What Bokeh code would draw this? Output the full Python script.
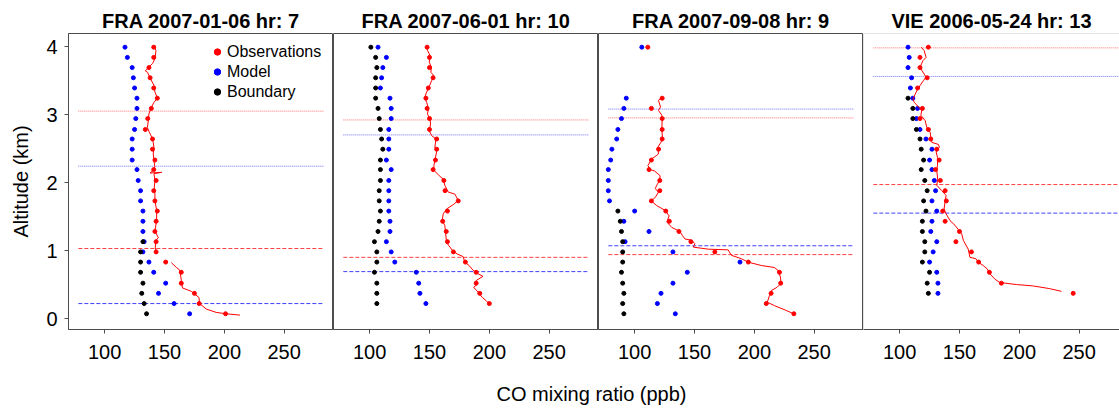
from bokeh.plotting import figure
from bokeh.layouts import row, column
from bokeh.models import Range1d, Legend, LegendItem, Label, BoxAnnotation
from bokeh.embed import file_html
from bokeh.resources import INLINE

# ---------------- data ----------------
XLIM = (78, 283)
YLIM = (0.0, 4.03)
XTICKS = [100, 150, 200, 250]
YTICKS = [0, 1, 2, 3, 4]
TITLES = ["FRA 2007-01-06 hr: 7", "FRA 2007-06-01 hr: 10",
          "FRA 2007-09-08 hr: 9", "VIE 2006-05-24 hr: 13"]
X_LABEL = "CO mixing ratio (ppb)"
Y_LABEL = "Altitude (km)"
LEGEND_LABELS = ["Observations", "Model", "Boundary"]

LEVELS = [3.99, 3.84, 3.69, 3.54, 3.39, 3.24, 3.09, 2.94, 2.78, 2.64, 2.49, 2.33, 2.19,
          2.03, 1.88, 1.73, 1.58, 1.43, 1.28, 1.13, 0.98, 0.83, 0.68, 0.52, 0.37, 0.22, 0.07]

# Panel 1  FRA 2007-01-06
p1_model_x = [117, 119, 123, 124, 125, 127, 127, 126, 125, 123, 123, 123, 127, 128, 130, 130,
              132, 132, 132, 133, 132, 137, 141, 151, 145, 158, 171]
p1_model_alt = LEVELS
p1_bound_x = [132, 130, 130, 130, 132, 131, 133, 135]
p1_bound_alt = LEVELS[19:]
p1_obs_x = [141, 141, 137, 138, 141, 144, 139, 136, 134, 140, 140, 142, 141, 143, 141, 142,
            144, 143, 142, 143, 143, 151, 164, 164, 175, 179, 201]
p1_obs_alt = LEVELS
p1_line_x = [141.2, 142.9, 142.0, 140.1, 137.0, 134.0, 135.9, 138.4, 141.2, 142.0, 144.2, 141.2,
             138.4, 137.0, 136.5, 135.7, 137.3, 140.1, 141.2, 140.6, 141.2, 142.0, 140.1, 137.9,
             147.6, 141.2, 142.0, 141.5, 142.0, 142.0, 143.4, 143.4, 142.0, 144.8, 142.9, 142.3,
             143.4, float("nan"), 155.8, 160.0, 162.8, 164.1, 165.0, 172.4, 178.8, 179.3, 184.9,
             193.2, 201.5, 213.1]
p1_line_alt = [4.00, 3.94, 3.82, 3.75, 3.70, 3.64, 3.62, 3.52, 3.43, 3.33, 3.24, 3.18,
               3.08, 3.01, 2.91, 2.81, 2.74, 2.64, 2.52, 2.42, 2.32, 2.23, 2.17, 2.14,
               2.15, 2.13, 2.03, 1.93, 1.83, 1.74, 1.59, 1.44, 1.29, 1.19, 1.15, 1.05,
               0.95, float("nan"), 0.82, 0.75, 0.71, 0.56, 0.45, 0.40, 0.31, 0.22, 0.14,
               0.09, 0.07, 0.05]
p1_obs_top, p1_model_top, p1_obs_pbl, p1_model_pbl = 3.05, 2.24, 1.03, 0.22

# Panel 2  FRA 2007-06-01
p2_bound_x = [101, 105, 106, 105, 105, 105, 107, 108, 109, 110, 111, 109, 109, 109, 108, 108,
              109, 108, 107, 104, 106, 106, 104, 106, 106, 106]
p2_bound_alt = LEVELS[:26]
p2_model_x = [107, 114, 111, 110, 109, 117, 118, 118, 116, 116, 116, 114, 118, 116, 116, 116,
              116, 117, 117, 114, 118, 121, 139, 141, 142, 147]
p2_model_alt = LEVELS[:26]
p2_obs_x = [148, 150, 150, 153, 149, 147, 148, 150, 150, 156, 156, 155, 153, 162, 163, 174,
            165, 161, 164, 165, 170, 180, 189, 189, 192, 200]
p2_obs_alt = LEVELS[:26]
p2_line_x = [147.6, 148.4, 150.4, 149.8, 151.5, 151.2, 153.7, 151.8, 149.3, 147.6, 146.0, 147.6,
             149.3, 148.2, 150.4, 150.9, 149.8, 151.8, 155.4, 154.5, 155.9, 154.8, 153.7, 153.7,
             158.1, 161.5, 162.8, 165.6, 171.2, 173.9, 170.3, 164.2, 161.5, 160.6, 162.8, 163.4,
             164.2, 169.2, 173.1, 178.1, 179.5, 183.1, 186.4, 190.5, 194.7, 189.1, 189.1, 186.9,
             190.5, 194.1, 197.5, 199.7]
p2_line_alt = [4.00, 3.94, 3.87, 3.77, 3.70, 3.62, 3.57, 3.50, 3.39, 3.33, 3.25, 3.18,
               3.08, 3.01, 2.94, 2.86, 2.76, 2.69, 2.64, 2.52, 2.45, 2.35, 2.25, 2.18,
               2.10, 2.05, 1.96, 1.86, 1.83, 1.74, 1.68, 1.61, 1.54, 1.44, 1.37, 1.27,
               1.12, 1.00, 0.95, 0.91, 0.83, 0.78, 0.71, 0.66, 0.62, 0.56, 0.49, 0.46,
               0.39, 0.31, 0.26, 0.22]
p2_obs_top, p2_model_top, p2_obs_pbl, p2_model_pbl = 2.92, 2.70, 0.90, 0.69

# Panel 3  FRA 2007-09-08
p3_model_x = [106, 93, 91, 89, 86, 85, 81, 80, 78, 78, 78, 79, 100, 91, 112, 92, 132, 188,
              144, 132, 122, 119, 134]
p3_model_alt = [3.99] + LEVELS[5:]
p3_bound_x = [86, 88, 89, 90, 90, 90, 89, 90, 91, 90, 91]
p3_bound_alt = LEVELS[16:]
p3_obs_x = [111, 123, 114, 123, 123, 123, 120, 114, 112, 121, 121, 114, 126, 129, 137, 147,
            167, 195, 221, 222, 214, 210, 233]
p3_obs_alt = [3.99] + LEVELS[5:]
p3_line_x = [123.0, 119.9, 121.6, 119.9, 122.7, 123.0, 122.7, 123.3, 121.9, 119.4, 119.9, 118.5,
             114.4, 111.1, 113.0, 116.6, 121.3, 120.8, 118.5, 117.2, 119.9, 117.2, 113.8, 118.5,
             125.5, 128.8, 126.9, 131.0, 137.9, 139.9, 142.1, 147.6, 150.4, 149.0, 161.5, 178.1,
             180.8, 189.1, 194.7, 205.8, 216.8, 219.6, 221.8, 222.4, 219.0, 214.1, 212.7, 210.8,
             216.8, 226.5, 232.9]
p3_line_alt = [3.25, 3.21, 3.11, 3.06, 2.99, 2.91, 2.79, 2.64, 2.59, 2.52, 2.42, 2.40,
               2.35, 2.25, 2.19, 2.17, 2.10, 2.03, 1.96, 1.91, 1.86, 1.78, 1.73, 1.66,
               1.59, 1.51, 1.42, 1.34, 1.28, 1.22, 1.17, 1.15, 1.10, 1.05, 1.02, 1.01,
               0.93, 0.88, 0.83, 0.78, 0.75, 0.71, 0.61, 0.52, 0.46, 0.41, 0.34, 0.24,
               0.19, 0.12, 0.07]
p3_obs_top, p3_model_top, p3_obs_pbl, p3_model_pbl = 2.95, 3.08, 0.94, 1.07

# Panel 4  VIE 2006-05-24
p4_model_x = [107, 108, 107, 110, 109, 111, 115, 114, 117, 122, 127, 125, 127, 129, 130, 127,
              131, 127, 126, 131, 128, 125, 131, 132, 132]
p4_model_alt = LEVELS[:25]
p4_bound_x = [107, 111, 111, 114, 117, 118, 120, 118, 121, 123, 120, 122, 119, 119, 121, 121,
              119, 125, 123, 124]
p4_bound_alt = LEVELS[5:25]
p4_obs_x = [124, 117, 117, 123, 115, 119, 117, 124, 126, 131, 133, 130, 134, 138, 139, 136,
            138, 150, 147, 160, 166, 175, 185, 245]
p4_obs_alt = LEVELS[:5] + LEVELS[6:25]
p4_line_x = [118.0, 120.5, 122.1, 119.4, 117.2, 118.5, 122.1, 119.9, 117.2, 114.4, 111.1, 112.2,
             115.8, 118.5, 117.7, 121.3, 122.7, 125.5, 126.0, 126.9, 132.4, 133.2, 130.5, 131.6,
             131.6, 131.0, 131.8, 131.0, 135.2, 138.8, 137.9, 137.1, 138.8, 142.1, 146.3, 149.8,
             151.8, 153.2, 157.3, 158.7, 163.7, 165.6, 169.8, 173.1, 175.3, 179.5, 183.6, 197.5,
             211.3, 225.2, 235.2]
p4_line_alt = [3.99, 3.94, 3.84, 3.79, 3.70, 3.65, 3.55, 3.50, 3.43, 3.35, 3.23, 3.18,
               3.11, 3.06, 2.99, 2.91, 2.81, 2.74, 2.67, 2.59, 2.56, 2.52, 2.45, 2.37,
               2.25, 2.18, 2.05, 1.96, 1.88, 1.81, 1.71, 1.61, 1.54, 1.44, 1.37, 1.29,
               1.25, 1.15, 1.02, 0.90, 0.88, 0.83, 0.78, 0.73, 0.66, 0.58, 0.53, 0.50,
               0.48, 0.44, 0.40]
p4_obs_top, p4_model_top, p4_obs_pbl, p4_model_pbl = 3.98, 3.56, 1.97, 1.55

PANELS = [
    (p1_obs_x, p1_obs_alt, p1_model_x, p1_model_alt, p1_bound_x, p1_bound_alt,
     p1_line_x, p1_line_alt, (p1_obs_top, p1_model_top, p1_obs_pbl, p1_model_pbl)),
    (p2_obs_x, p2_obs_alt, p2_model_x, p2_model_alt, p2_bound_x, p2_bound_alt,
     p2_line_x, p2_line_alt, (p2_obs_top, p2_model_top, p2_obs_pbl, p2_model_pbl)),
    (p3_obs_x, p3_obs_alt, p3_model_x, p3_model_alt, p3_bound_x, p3_bound_alt,
     p3_line_x, p3_line_alt, (p3_obs_top, p3_model_top, p3_obs_pbl, p3_model_pbl)),
    (p4_obs_x, p4_obs_alt, p4_model_x, p4_model_alt, p4_bound_x, p4_bound_alt,
     p4_line_x, p4_line_alt, (p4_obs_top, p4_model_top, p4_obs_pbl, p4_model_pbl)),
]

# ---------------- style / layout ----------------
FONT = "Liberation Sans"
FRAME = "#4d4d4d"
RED = "#ff0000"
BLUE = "#0000ff"
RED_DASH = "#ff4040"
BLUE_DASH = "#4040ff"
RED_DOT = "#ff7070"
BLUE_DOT = "#7070ff"
FRAME_W = 265
FRAME_H = 296
TOP = 33
BOTTOM = 41
LEFT0 = 68
TOTAL_W = 1119
PANEL_W = [LEFT0 + FRAME_W, FRAME_W, FRAME_W]
PANEL_W.append(TOTAL_W - sum(PANEL_W))
ROW_H = TOP + FRAME_H + BOTTOM
LABEL_H = 408 - ROW_H

x_pad = 0.04 * (XLIM[1] - XLIM[0])
y_pad = 0.04 * (YLIM[1] - YLIM[0])
x_lo, x_hi = XLIM[0] - x_pad, XLIM[1] + x_pad

figs = []
for i, (ox, oa, mx, ma, bx, ba, lx, la, hl) in enumerate(PANELS):
    frame_w = PANEL_W[i] - (LEFT0 if i == 0 else 0)
    xr = Range1d(x_lo, x_lo + (x_hi - x_lo) * frame_w / FRAME_W)
    yr = Range1d(YLIM[0] - y_pad, YLIM[1] + y_pad)
    p = figure(width=PANEL_W[i], height=ROW_H, x_range=xr, y_range=yr,
               toolbar_location=None, output_backend="svg",
               y_axis_location="left" if i == 0 else None,
               min_border_left=LEFT0 if i == 0 else 0, min_border_right=0,
               min_border_top=TOP, min_border_bottom=BOTTOM)
    p.xgrid.visible = False
    p.ygrid.visible = False
    p.background_fill_color = "white"
    p.border_fill_color = "white"
    if i < 3:
        p.outline_line_color = FRAME
        p.outline_line_width = 1
    else:
        p.outline_line_color = None
        p.add_layout(BoxAnnotation(left=xr.start, right=xr.start + 1000,
                                   bottom=yr.start, top=yr.end,
                                   fill_alpha=0, fill_color=None,
                                   line_color=FRAME, line_width=1))

    p.title.text = TITLES[i]
    p.title.align = "center"
    p.title.text_font = FONT
    p.title.text_font_size = "20px"
    p.title.text_font_style = "bold"
    p.title.text_color = "black"
    p.title.standoff = 4

    ax = p.xaxis[0]
    ax.ticker = XTICKS
    ax.axis_line_color = FRAME
    ax.major_tick_line_color = FRAME
    ax.major_tick_out = 4
    ax.major_tick_in = 0
    ax.minor_tick_line_color = None
    ax.major_label_text_font = FONT
    ax.major_label_text_font_size = "20px"
    ax.major_label_text_color = "black"
    ax.major_label_standoff = 11

    if i == 0:
        ay = p.yaxis[0]
        ay.ticker = YTICKS
        ay.axis_line_color = FRAME
        ay.major_tick_line_color = FRAME
        ay.major_tick_out = 4
        ay.major_tick_in = 0
        ay.minor_tick_line_color = None
        ay.major_label_text_font = FONT
        ay.major_label_text_font_size = "20px"
        ay.major_label_text_color = "black"
        ay.major_label_standoff = 7
        ay.axis_label = Y_LABEL
        ay.axis_label_text_font = FONT
        ay.axis_label_text_font_size = "20px"
        ay.axis_label_text_font_style = "normal"
        ay.axis_label_text_color = "black"
        ay.axis_label_standoff = 11

    obs_top, model_top, obs_pbl, model_pbl = hl
    p.segment(x0=XLIM[0], x1=XLIM[1], y0=obs_top, y1=obs_top,
              line_color=RED_DOT, line_width=1, line_dash="1 1")
    p.segment(x0=XLIM[0], x1=XLIM[1], y0=model_top, y1=model_top,
              line_color=BLUE_DOT, line_width=1, line_dash="1 1")
    p.segment(x0=XLIM[0], x1=XLIM[1], y0=obs_pbl, y1=obs_pbl,
              line_color=RED_DASH, line_width=1, line_dash="4 2")
    p.segment(x0=XLIM[0], x1=XLIM[1], y0=model_pbl, y1=model_pbl,
              line_color=BLUE_DASH, line_width=1, line_dash="4 2")

    r_model = p.scatter(mx, ma, size=4, color=BLUE)
    r_bound = p.scatter(bx, ba, size=4, color="black")
    p.line(lx, la, line_color=RED, line_width=1)
    r_obs = p.scatter(ox, oa, size=4, color=RED)

    if i == 0:
        legend = Legend(items=[LegendItem(label=LEGEND_LABELS[0], renderers=[r_obs]),
                               LegendItem(label=LEGEND_LABELS[1], renderers=[r_model]),
                               LegendItem(label=LEGEND_LABELS[2], renderers=[r_bound])],
                        location=(141, 228), orientation="vertical",
                        glyph_width=16, glyph_height=19, label_height=19,
                        label_standoff=2, spacing=1, padding=0, margin=0,
                        label_text_font=FONT, label_text_font_size="16px",
                        label_text_color="black",
                        border_line_color=None, background_fill_alpha=0)
        p.add_layout(legend, "center")
    figs.append(p)

# bottom strip carrying the shared x-axis label
pl = figure(width=TOTAL_W, height=LABEL_H, title=None,
            x_range=Range1d(0, TOTAL_W), y_range=Range1d(0, LABEL_H),
            toolbar_location=None, output_backend="svg",
            x_axis_location=None, y_axis_location=None,
            min_border=0, min_border_left=0, min_border_right=0,
            min_border_top=0, min_border_bottom=0)
pl.outline_line_color = None
pl.xgrid.visible = False
pl.ygrid.visible = False
pl.add_layout(Label(x=591, y=15, text=X_LABEL, text_align="center",
                    text_baseline="alphabetic", text_font=FONT,
                    text_font_size="20px", text_color="black"))

layout = column(row(*figs, spacing=0), pl, spacing=0)

with open("out.html", "w") as f:
    f.write(file_html(layout, INLINE))
